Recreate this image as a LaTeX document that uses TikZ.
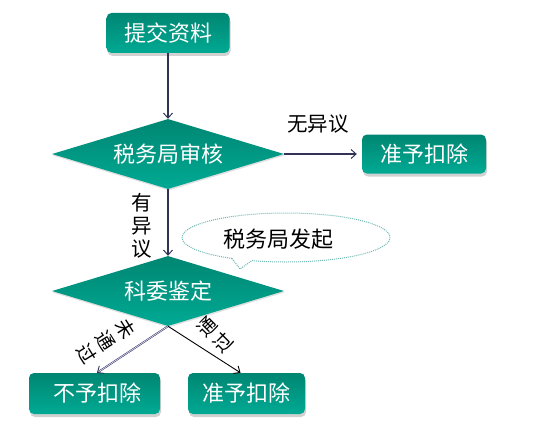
\documentclass[tikz,border=0pt]{standalone}
\usepackage{fontspec}
\setmainfont{Noto Sans CJK SC}
\usetikzlibrary{shapes.geometric,arrows.meta,shadows}
\definecolor{tealtop}{RGB}{0,134,114}
\definecolor{tealbot}{RGB}{0,170,148}
\definecolor{arrowc}{RGB}{50,50,85}
\definecolor{dotc}{RGB}{110,185,180}
\tikzset{
  boxnode/.style={rectangle, rounded corners=5pt, top color=tealtop, bottom color=tealbot,
    draw=none, text=white, font=\fontsize{22}{24}\selectfont, inner sep=0pt,
    drop shadow={shadow xshift=1pt, shadow yshift=-3pt, fill=black!30, opacity=0.6}},
  decnode/.style={diamond, aspect=3.3, top color=tealtop, bottom color=tealbot,
    draw=none, text=white, font=\fontsize{22}{24}\selectfont, inner sep=0pt,
    minimum width=232pt, minimum height=70pt,
    drop shadow={shadow xshift=0.5pt, shadow yshift=-1.5pt, fill=black!25, opacity=0.5}},
  lbl/.style={text=black, font=\fontsize{20.5}{22}\selectfont, inner sep=0pt},
  flow/.style={draw=arrowc, line width=1.3pt, -{Straight Barb[length=5pt,width=9pt,line width=1pt]}},
  thinflow/.style={draw=black, line width=0.9pt, -{Straight Barb[length=5pt,width=9pt,line width=0.9pt]}},
  callout/.style={draw=dotc, densely dotted, line width=1pt, fill=white}
}
\begin{document}
\begin{tikzpicture}[x=1pt,y=-1pt]
\useasboundingbox (0,0) rectangle (546,436);

\node[boxnode, minimum width=123pt, minimum height=40pt] (b1) at (168,33) {提交资料};
\node[decnode] (d1) at (168,154) {税务局审核};
\node[boxnode, minimum width=124pt, minimum height=39pt] (r1) at (424,154) {准予扣除};
\node[decnode] (d2) at (168,291) {科委鉴定};
\node[boxnode, minimum width=131pt, minimum height=41pt] (l1) at (94.5,393.5) {\hspace*{6pt}不予扣除};
\node[boxnode, minimum width=117pt, minimum height=41pt] (r2) at (246.5,393.5) {准予扣除};

% callout
\draw[callout] (286,237.5) ++(121.3:104 and 24.5)
  arc[start angle=121.3, end angle=469.1, x radius=104, y radius=24.5]
  -- (240,269) -- cycle;
\node[lbl, font=\fontsize{22}{24}\selectfont] (c1) at (278,239) {税务局发起};

% connectors
\draw[flow] (b1.south) -- (d1.north);
\draw[flow, shorten >=5pt] (d1.east) -- (r1.west);
\draw[flow] (d1.south) -- (d2.north);
\draw[draw=arrowc, line width=0.5pt, double=white!85!blue, double distance=0.7pt,
  -{Straight Barb[length=5pt,width=9pt,line width=0.9pt]}] (d2.south) -- ([xshift=2.5pt]l1.north);
\draw[thinflow] (d2.south) -- ([xshift=-6pt]r2.north);

% labels
\node[lbl] (t1) at (318,124) {无异议};
\node[lbl, align=center, font=\fontsize{20.5}{23}\selectfont] (t2) at (142,226) {有\\异\\议};
\node[lbl, align=center, rotate=-58, font=\fontsize{19}{23}\selectfont] (t3) at (106,341) {未\\通\\过};
\node[lbl, align=center, rotate=45, font=\fontsize{19}{23}\selectfont] (t4) at (215,335) {通\\过};
\end{tikzpicture}
\end{document}
